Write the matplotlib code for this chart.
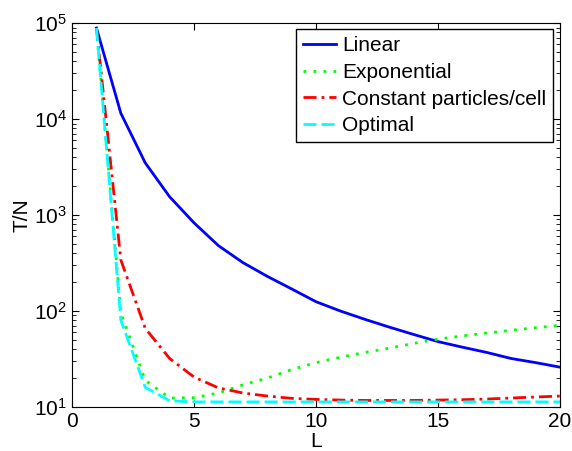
import matplotlib
matplotlib.use('Agg')
import matplotlib.pyplot as plt

plt.rcParams['font.family'] = ['Liberation Sans', 'DejaVu Sans']
plt.rcParams['font.size'] = 15

L = list(range(1, 21))
linear = [89000, 11500, 3500, 1550, 830, 480, 320, 230, 170, 125,
          100, 82, 68, 57, 48, 42, 37, 32, 29, 26]
exponential = [89000, 95, 19, 12.4, 12.5, 14, 17, 20, 24.5, 29,
               33, 37, 41, 46, 51, 55, 59, 63, 67, 71]
const_ppc = [89000, 340, 66, 32, 20.5, 15.8, 14, 13, 12.3, 12,
             11.8, 11.7, 11.7, 11.7, 11.8, 11.9, 12.1, 12.4, 12.7, 13]
optimal = [89000, 80, 16, 11.6, 11.3, 11.3, 11.3, 11.3, 11.3, 11.3,
           11.3, 11.3, 11.3, 11.3, 11.3, 11.3, 11.3, 11.3, 11.3, 11.3]

fig = plt.figure(figsize=(5.72, 4.51), dpi=100)
ax = fig.add_axes([0.126, 0.0976, 0.853, 0.851])

ax.plot(L, linear, color='#0000ff', lw=2, label='Linear')
ax.plot(L, exponential, color='#00ff00', lw=2, linestyle=(0, (1, 2.6)), label='Exponential')
ax.plot(L, const_ppc, color='#ff0000', lw=2, linestyle=(0, (4.7, 1.8, 1, 1.8)),
        label='Constant particles/cell')
ax.plot(L, optimal, color='#00ffff', lw=2, linestyle=(0, (4.7, 1.8)), label='Optimal')

ax.set_yscale('log')
ax.set_xlim(0, 20)
ax.set_ylim(10, 1e5)
ax.set_xticks([0, 5, 10, 15, 20])
ax.tick_params(which='both', direction='in', top=True, right=True)
ax.tick_params(which='major', length=5)
ax.tick_params(which='minor', length=3)
ax.set_xlabel('L', labelpad=1)
ax.set_ylabel('T/N', labelpad=2)

leg = ax.legend(loc='upper right', bbox_to_anchor=(0.986, 0.984), fancybox=False,
                framealpha=1, edgecolor='black', borderpad=0.33, labelspacing=0.37,
                handlelength=1.6, handletextpad=0.3, borderaxespad=0)
leg.get_frame().set_linewidth(1)

fig.savefig('out.png', dpi=100)
